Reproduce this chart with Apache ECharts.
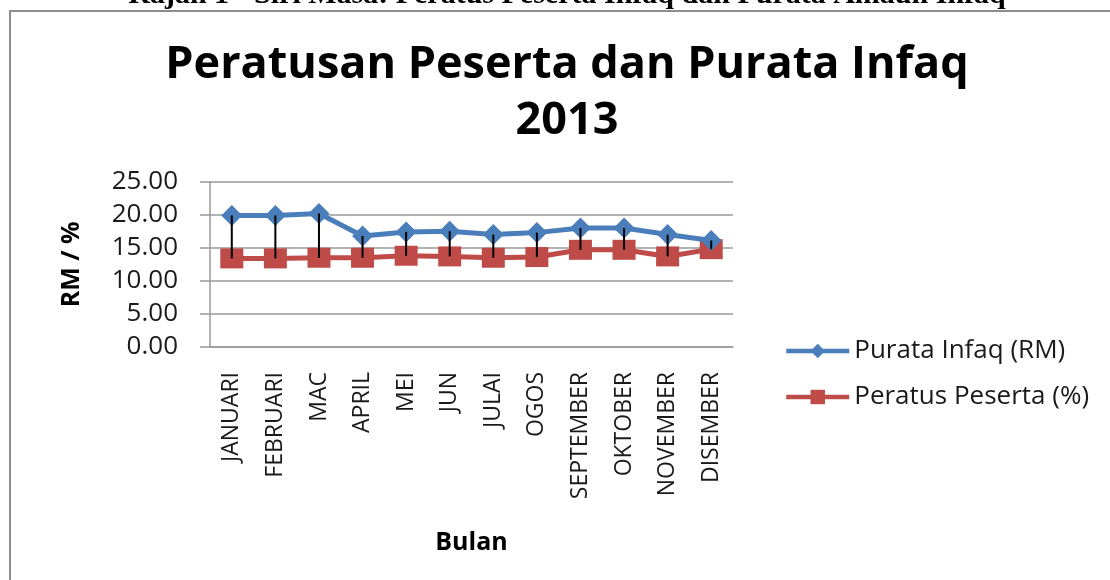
<!DOCTYPE html>
<html>
<head>
<meta charset="utf-8">
<script src="https://cdn.jsdelivr.net/npm/echarts@6/dist/echarts.min.js"></script>
<style>
html,body{margin:0;padding:0;background:#fff;}
#chart{width:1110px;height:580px;}
</style>
</head>
<body>
<div id="chart"></div>
<script>
const months = ['JANUARI','FEBRUARI','MAC','APRIL','MEI','JUN','JULAI','OGOS','SEPTEMBER','OKTOBER','NOVEMBER','DISEMBER'];
const purataInfaq = [19.9, 19.9, 20.2, 16.8, 17.4, 17.5, 17.0, 17.3, 18.0, 18.0, 17.0, 16.1];
const peratusPeserta = [13.4, 13.4, 13.5, 13.5, 13.8, 13.7, 13.5, 13.6, 14.7, 14.7, 13.7, 14.8];
const yTicks = [0, 5, 10, 15, 20, 25];
const seriesNames = ['Purata Infaq (RM)', 'Peratus Peserta (%)'];
const titleText = 'Peratusan Peserta dan Purata Infaq\n2013';
const captionText = 'Rajah 1 - Siri Masa: Peratus Peserta Infaq dan Purata Amaun Infaq';

const chart = echarts.init(document.getElementById('chart'));
const hlData = months.map((m, i) => [i, purataInfaq[i], peratusPeserta[i]]);
const gridColor = '#9a9a9a';
const font = 'Open Sans';

chart.setOption({
  animation: false,
  backgroundColor: '#fff',
  title: {
    text: titleText,
    left: 567,
    textAlign: 'center',
    top: 37,
    padding: 0,
    textStyle: {fontFamily: font, fontWeight: 'bold', fontSize: 45, lineHeight: 56, color: '#000'}
  },
  graphic: [
    {type: 'rect', z: -1, shape: {x: 10, y: 11, width: 1300, height: 800}, style: {fill: 'none', stroke: '#8c8c8c', lineWidth: 2}},
    {type: 'text', style: {text: captionText, x: 567, y: 10, textAlign: 'center', textVerticalAlign: 'bottom', fontFamily: 'Liberation Serif', fontWeight: 'bold', fontSize: 30, fill: '#000'}}
  ],
  legend: {
    data: seriesNames,
    orient: 'vertical',
    left: 779,
    top: 332,
    itemWidth: 63,
    itemHeight: 18,
    itemGap: 18,
    lineStyle: {width: 4.5},
    textStyle: {fontFamily: font, fontSize: 26, lineHeight: 28, color: '#1a1a1a', padding: [0, 0, 0, 0]}
  },
  grid: {left: 210, right: 377, top: 181.7, bottom: 233, containLabel: false},
  xAxis: {
    type: 'category',
    data: months,
    boundaryGap: true,
    name: 'Bulan',
    nameLocation: 'middle',
    nameGap: 183,
    nameTextStyle: {fontFamily: font, fontWeight: 'bold', fontSize: 25, color: '#000'},
    axisLine: {show: true, lineStyle: {color: gridColor, width: 1.5}},
    axisTick: {show: false},
    axisLabel: {rotate: 90, margin: 25, interval: 0, fontFamily: font, fontSize: 23, color: '#1a1a1a'}
  },
  yAxis: {
    type: 'value',
    min: yTicks[0],
    max: yTicks[yTicks.length - 1],
    interval: yTicks[1] - yTicks[0],
    name: 'RM / %',
    nameLocation: 'middle',
    nameGap: 126,
    nameRotate: 90,
    nameTextStyle: {fontFamily: font, fontWeight: 'bold', fontSize: 25, color: '#000'},
    axisLine: {show: true, lineStyle: {color: gridColor, width: 1.5}},
    axisTick: {show: true, length: 10, lineStyle: {color: gridColor, width: 1.5}},
    splitLine: {show: true, lineStyle: {color: gridColor, width: 1.5}},
    axisLabel: {margin: 32, fontFamily: font, fontSize: 26, color: '#1a1a1a', formatter: v => v.toFixed(2)}
  },
  series: [
    {
      name: seriesNames[0], type: 'line', data: purataInfaq,
      symbol: 'diamond', symbolSize: [21, 21],
      lineStyle: {color: '#4A7EBB', width: 5},
      itemStyle: {color: '#4A7EBB'},
      z: 3
    },
    {
      name: seriesNames[1], type: 'line', data: peratusPeserta,
      symbol: 'rect', symbolSize: [23, 20],
      lineStyle: {color: '#BE4B48', width: 5},
      itemStyle: {color: '#BE4B48'},
      z: 2
    },
    {
      name: 'highlow', type: 'custom', data: hlData, silent: true, z: 5,
      encode: {x: 0, y: [1, 2]},
      renderItem: (params, api) => {
        const a = api.coord([api.value(0), api.value(1)]);
        const b = api.coord([api.value(0), api.value(2)]);
        return {type: 'line', shape: {x1: a[0], y1: a[1], x2: b[0], y2: b[1]}, style: {stroke: '#000', lineWidth: 2}};
      }
    }
  ]
});
</script>
</body>
</html>
